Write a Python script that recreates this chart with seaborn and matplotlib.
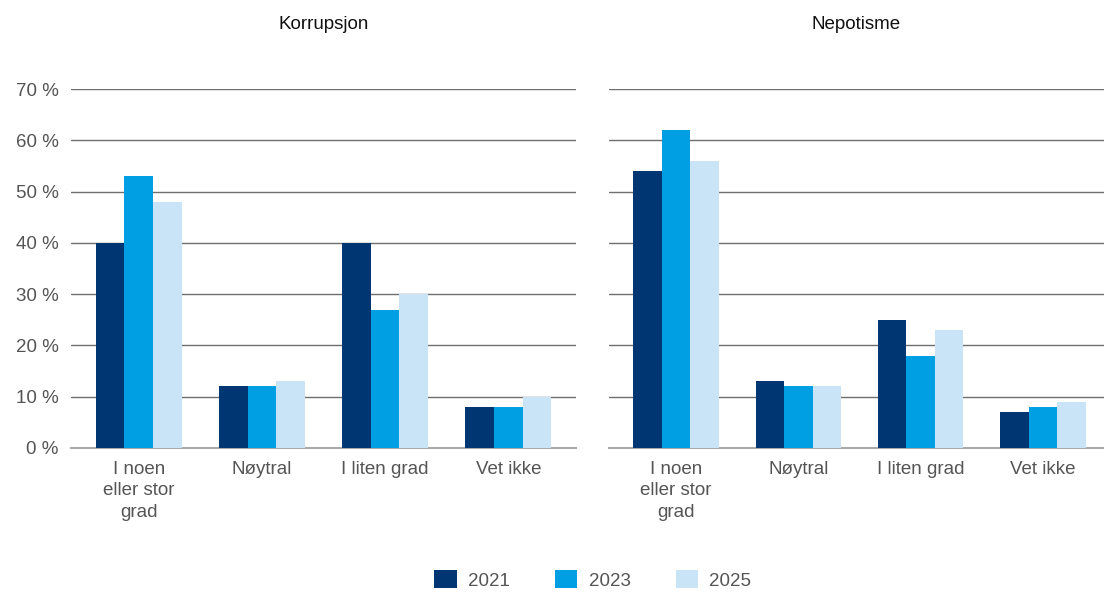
import pandas as pd
import seaborn as sns
import matplotlib.pyplot as plt
from matplotlib.patches import Patch

# Data
categories = ['I noen\neller stor\ngrad', 'Nøytral', 'I liten grad', 'Vet ikke']
years = ['2021', '2023', '2025']
korrupsjon = {
    '2021': [40, 12, 40, 8],
    '2023': [53, 12, 27, 8],
    '2025': [48, 13, 30, 10],
}
nepotisme = {
    '2021': [54, 13, 25, 7],
    '2023': [62, 12, 18, 8],
    '2025': [56, 12, 23, 9],
}
panel_titles = ['Korrupsjon', 'Nepotisme']
colors = ['#003772', '#009FE3', '#C8E4F6']


def to_long(d):
    rows = []
    for y in years:
        for c, v in zip(categories, d[y]):
            rows.append({'Kategori': c, 'År': y, 'Andel': v})
    return pd.DataFrame(rows)


sns.set_style('white')
plt.rcParams['font.family'] = ['Liberation Sans', 'DejaVu Sans']
fs = 13.5

fig = plt.figure(figsize=(11.04, 5.92), dpi=100)
ax1 = fig.add_axes([71 / 1104, 1 - 448 / 592, 505 / 1104, 359 / 592])
ax2 = fig.add_axes([609 / 1104, 1 - 448 / 592, 495 / 1104, 359 / 592])

for ax, d, title in zip([ax1, ax2], [korrupsjon, nepotisme], panel_titles):
    df = to_long(d)
    sns.barplot(data=df, x='Kategori', y='Andel', hue='År', hue_order=years,
                palette=colors, width=0.7, saturation=1, linewidth=0,
                legend=False, ax=ax, zorder=3)
    ax.set_ylim(0, 70)
    ax.set_yticks(range(0, 71, 10))
    ax.grid(axis='y', color='#6e6e6e', linewidth=1, zorder=0)
    for s in ['top', 'right', 'left']:
        ax.spines[s].set_visible(False)
    ax.spines['bottom'].set_color('#aaaaaa')
    ax.spines['bottom'].set_linewidth(1.5)
    ax.tick_params(axis='both', length=0, labelsize=fs, labelcolor='#555555', pad=9)
    ax.set_xlabel('')
    ax.set_ylabel('')
    ax.set_title(title, fontsize=fs, color='#111111', pad=43)
    ax.set_xticks(range(len(categories)))
    ax.set_xticklabels(categories, linespacing=1.38)

ax1.set_xlim(-0.55, 3.55)
ax2.set_xlim(-0.55, 3.5)
ax1.set_yticklabels([f'{v} %' for v in range(0, 71, 10)])
ax2.set_yticklabels([])

handles = [Patch(facecolor=c, edgecolor='none') for c in colors]
fig.legend(handles, years, loc='center', bbox_to_anchor=(0.537, 0.02),
           ncol=3, frameon=False, fontsize=fs, labelcolor='#555555',
           handlelength=1.2, handleheight=1.1, handletextpad=0.6, columnspacing=2.4)

fig.savefig('out.png', dpi=100)
